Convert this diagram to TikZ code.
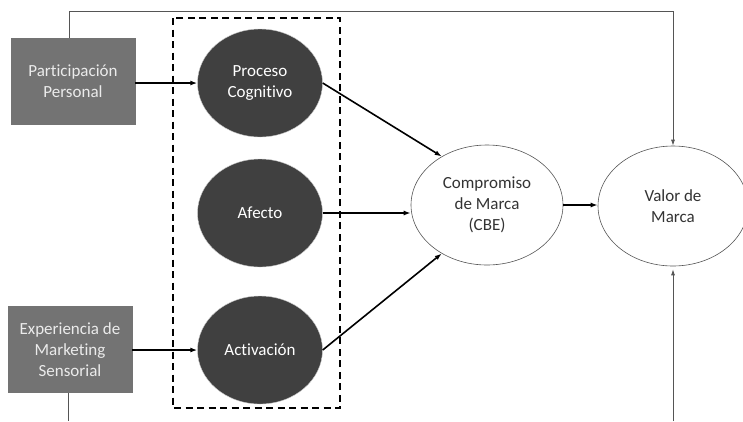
\documentclass[tikz,border=0pt]{standalone}
\usepackage{fontspec}
\setmainfont[Ligatures=NoCommon]{Carlito}
\usetikzlibrary{arrows.meta,calc,shapes.geometric}
\definecolor{boxgray}{HTML}{737373}
\definecolor{darkell}{HTML}{404040}
\definecolor{linegray}{HTML}{555555}
\begin{document}
\begin{tikzpicture}[x=1pt,y=-1pt,
  every node/.style={font=\fontsize{17}{21}\selectfont, align=center, inner sep=0pt},
  sqbox/.style={draw=boxgray, fill=boxgray, text=white!92!black, minimum width=124pt, minimum height=86pt},
  darkel/.style={ellipse, draw=white!80!black, fill=darkell, text=white, minimum width=125pt, minimum height=108pt},
  whiteel/.style={ellipse, draw=linegray, line width=0.6pt, fill=white, text=black!80, minimum width=152pt, minimum height=120pt},
  thickarr/.style={line width=1.6pt, -{Latex[length=7pt,width=5pt]}},
  thinarr/.style={draw=linegray, line width=0.8pt, -{Latex[length=6pt,width=4pt]}},
  thinline/.style={draw=linegray, line width=0.8pt}
]
\useasboundingbox (0,0) rectangle (743,421);
\node[sqbox] (pp) at (73,81) {Participación\\Personal};
\node[sqbox] (ems) at (70,349.5) {Experiencia de\\Marketing\\Sensorial};
\draw[line width=1.6pt, dash pattern=on 7pt off 4.5pt] (173,18) rectangle (340,408);
\node[darkel] (pc) at (260,83) {Proceso\\Cognitivo};
\node[darkel] (af) at (260,213) {Afecto};
\node[darkel] (ac) at (260,350) {Activación};
\node[whiteel] (cbe) at (487,205) {Compromiso\\de Marca\\(CBE)};
\node[whiteel, minimum width=150pt] (vm) at (673,206) {Valor de\\Marca};
\draw[thickarr] (pp.east |- pc.west) -- (pc.west);
\draw[thickarr] (ems.east |- ac.west) -- (ac.west);
\draw[thickarr] (pc.east) -- (cbe.133);
\draw[thickarr] (af.east) -- (cbe.west |- af.east);
\draw[thickarr] (ac.east) -- (cbe.-133);
\draw[thickarr] (cbe.east) -- (vm.west |- cbe.east);
\coordinate (ppup) at ($(pp.north)+(-4,0)$);
\coordinate (topl) at (69,11);
\coordinate (topr) at (vm.north |- topl);
\draw[thinarr] (ppup) -- (topl) -- (topr) -- (vm.north);
\coordinate (emsdown) at ($(ems.south)+(-2,0)$);
\coordinate (bl) at (68,421);
\draw[thinline] (emsdown) -- (bl);
\coordinate (br) at (vm.south |- bl);
\draw[thinarr] (br) -- ($(vm.south)+(0,3)$);
\end{tikzpicture}
\end{document}
